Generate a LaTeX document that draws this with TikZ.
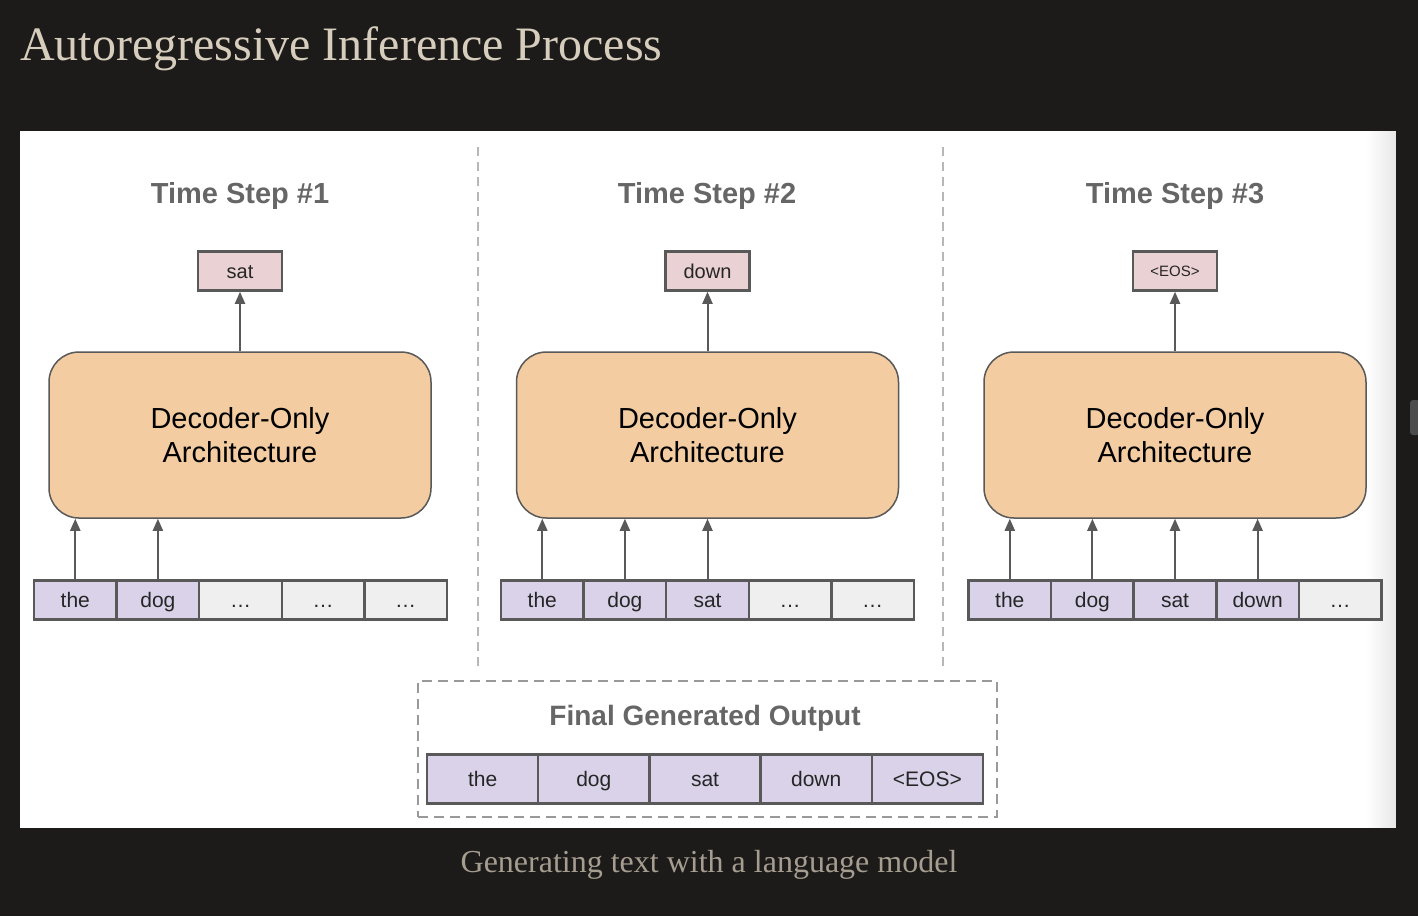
\documentclass[tikz,border=0pt]{standalone}
\usepackage{fontspec}
\setmainfont{Liberation Serif}
\newfontfamily\arial{Liberation Sans}
\usetikzlibrary{arrows.meta}
\definecolor{bgdark}{HTML}{1C1B1A}
\definecolor{titlecol}{HTML}{D6CDBD}
\definecolor{capcol}{HTML}{A59D8F}
\definecolor{edge}{HTML}{595959}
\definecolor{peach}{HTML}{F3CCA2}
\definecolor{pinkfill}{HTML}{EAD1D3}
\definecolor{lavender}{HTML}{D9D2E9}
\definecolor{emptycell}{HTML}{EFEFEF}
\definecolor{stepgrey}{HTML}{666666}
\definecolor{sepgrey}{HTML}{B7B7B7}
\tikzset{
  decoder/.style={draw=edge, line width=1.5pt, fill=peach, rounded corners=30pt,
    minimum width=382pt, minimum height=166pt, inner sep=0pt, align=center,
    font=\arial\fontsize{29}{34}\selectfont, text=black},
  outbox/.style={draw=edge, line width=2.5pt, fill=pinkfill, minimum width=84pt,
    minimum height=39pt, inner sep=0pt, text height=14pt, text depth=0pt,
    font=\arial\fontsize{20}{24}\selectfont, text=black!85},
  tok/.style={draw=edge, line width=2.5pt, fill=lavender, minimum width=82.6pt,
    minimum height=39pt, inner sep=0pt, text height=15pt, text depth=0pt,
    font=\arial\fontsize{21}{24}\selectfont, text=black!85},
  emptytok/.style={tok, fill=emptycell},
  ftok/.style={tok, minimum width=111.2pt, minimum height=49pt},
  steptitle/.style={font=\arial\bfseries\fontsize{29}{34}\selectfont, text=stepgrey},
  flow/.style={draw=edge, line width=2pt, -{Triangle[length=12pt,width=10pt]}},
  sepline/.style={draw=sepgrey, line width=2pt, dash pattern=on 9pt off 6pt},
}
\begin{document}
\begin{tikzpicture}[x=1pt,y=-1pt]
\useasboundingbox (0,0) rectangle (1418,916);
\fill[bgdark] (0,0) rectangle (1418,916);
% white panel with soft right edge
\fill[white] (20,131) rectangle (1367,828);
\foreach \i in {0,...,29}{
  \pgfmathsetmacro{\p}{\i*9/29}
  \fill[black!\p!white] (1366+\i,131) rectangle (1367.2+\i,828);
}
% small scroll marker at right
\fill[black!70, rounded corners=3pt] (1410,400) rectangle (1420,435);

\node[anchor=base west, text=titlecol, font=\fontsize{48}{56}\selectfont, inner sep=0pt] (title) at (20,60) {Autoregressive Inference Process};
\node[anchor=base, text=capcol, font=\fontsize{32}{38}\selectfont, inner sep=0pt] (caption) at (709,872) {Generating text with a language model};

% separators
\coordinate (sepAtop) at (478,147);
\coordinate (sepAbot) at (478,666);
\coordinate (sepBtop) at (943,147);
\coordinate (sepBbot) at (943,666);
\draw[sepline] (sepAtop) -- (sepAbot);
\draw[sepline] (sepBtop) -- (sepBbot);

% ---------- Step 1 ----------
\node[steptitle] (st1) at (240,196) {Time Step \#1};
\node[outbox] (o1) at (240,271) {sat};
\node[decoder] (d1) at (240,435) {Decoder-Only\\Architecture};
\node[tok] (a1) at (75.3,600) {the};
\node[tok] (a2) at (157.9,600) {dog};
\node[emptytok] (a3) at (240.5,600) {\dots};
\node[emptytok] (a4) at (323.1,600) {\dots};
\node[emptytok] (a5) at (405.7,600) {\dots};
\draw[flow] (d1.north) -- (o1.south);
\draw[flow] (a1.north) -- (a1.north |- d1.south);
\draw[flow] (a2.north) -- (a2.north |- d1.south);

% ---------- Step 2 ----------
\node[steptitle] (st2) at (707,196) {Time Step \#2};
\node[outbox] (o2) at (707.5,271) {down};
\node[decoder] (d2) at (707.5,435) {Decoder-Only\\Architecture};
\node[tok] (b1) at (542.3,600) {the};
\node[tok] (b2) at (624.9,600) {dog};
\node[tok] (b3) at (707.5,600) {sat};
\node[emptytok] (b4) at (790.1,600) {\dots};
\node[emptytok] (b5) at (872.7,600) {\dots};
\draw[flow] (d2.north) -- (o2.south);
\draw[flow] (b1.north) -- (b1.north |- d2.south);
\draw[flow] (b2.north) -- (b2.north |- d2.south);
\draw[flow] (b3.north) -- (b3.north |- d2.south);

% ---------- Step 3 ----------
\node[steptitle] (st3) at (1175,196) {Time Step \#3};
\node[outbox, font=\arial\fontsize{15}{18}\selectfont, text height=11pt] (o3) at (1175,271) {<EOS>};
\node[decoder] (d3) at (1175,435) {Decoder-Only\\Architecture};
\node[tok] (c1) at (1009.8,600) {the};
\node[tok] (c2) at (1092.4,600) {dog};
\node[tok] (c3) at (1175,600) {sat};
\node[tok] (c4) at (1257.6,600) {down};
\node[emptytok] (c5) at (1340.2,600) {\dots};
\draw[flow] (d3.north) -- (o3.south);
\draw[flow] (c1.north) -- (c1.north |- d3.south);
\draw[flow] (c2.north) -- (c2.north |- d3.south);
\draw[flow] (c3.north) -- (c3.north |- d3.south);
\draw[flow] (c4.north) -- (c4.north |- d3.south);

% ---------- Final output ----------
\node[draw=black!40, line width=2pt, dash pattern=on 10pt off 6pt, minimum width=579pt, minimum height=136pt] (final) at (707.5,749) {};
\node[steptitle, font=\arial\bfseries\fontsize{28}{32}\selectfont] (ftitle) at (705,718) {Final Generated Output};
\node[ftok] (f1) at (482.6,779) {the};
\node[ftok] (f2) at (593.8,779) {dog};
\node[ftok] (f3) at (705,779) {sat};
\node[ftok] (f4) at (816.2,779) {down};
\node[ftok] (f5) at (927.4,779) {<EOS>};
\end{tikzpicture}
\end{document}
